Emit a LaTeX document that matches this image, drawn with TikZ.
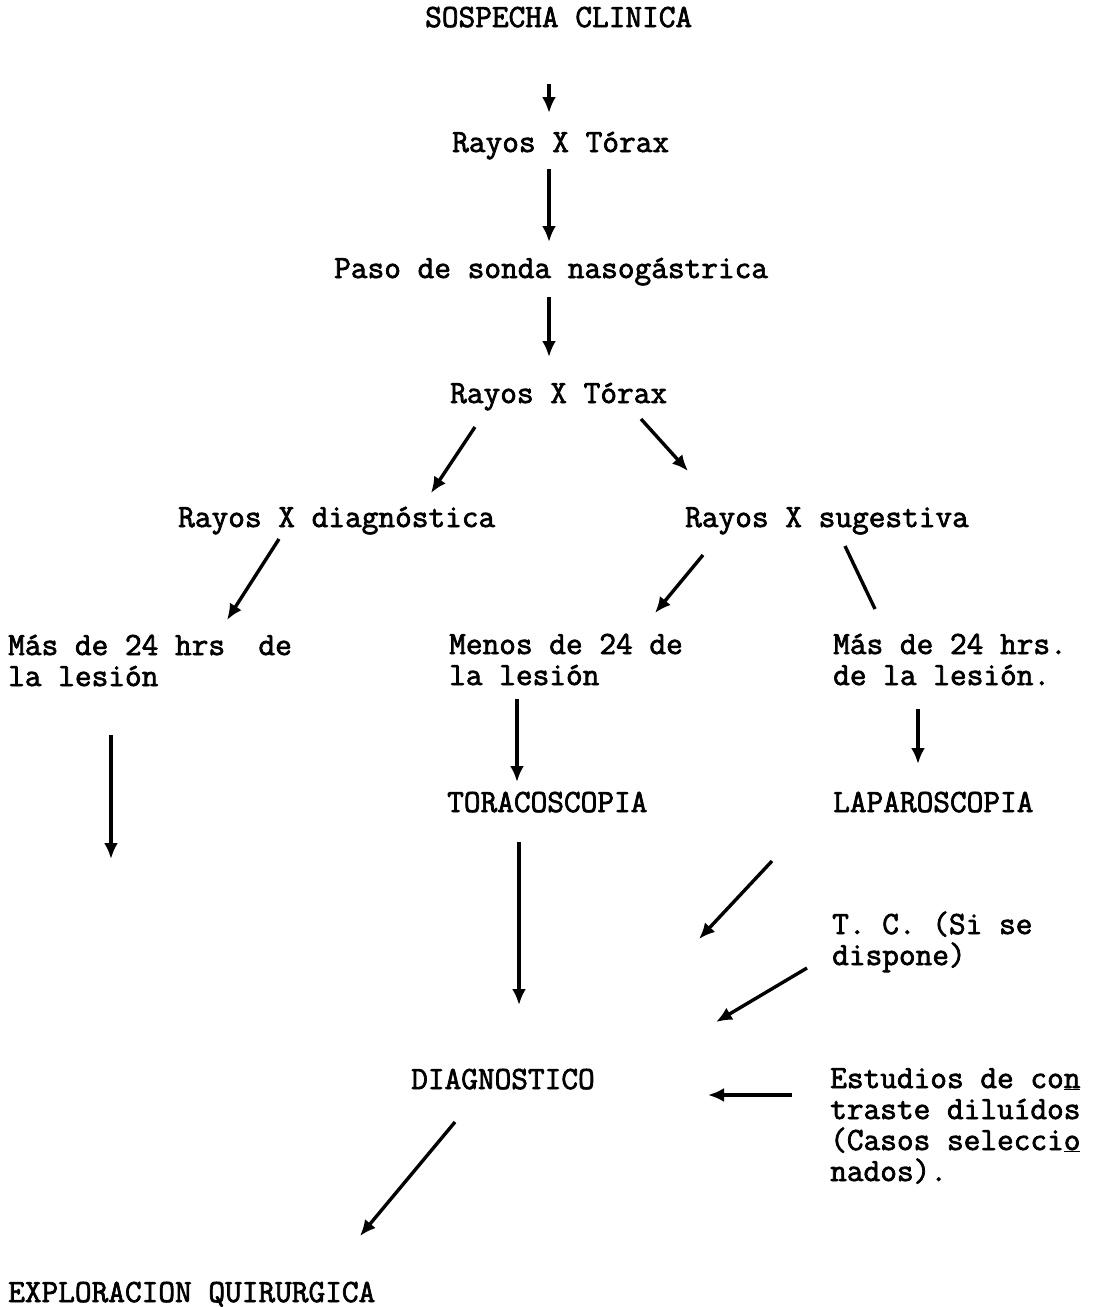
\documentclass[tikz,border=0pt]{standalone}
\usepackage{fontspec}
\setmonofont{Latin Modern Mono}[FakeBold=2.2]
\usetikzlibrary{arrows.meta}
\tikzset{
  txt/.style={anchor=base west, inner sep=0pt, align=left,
    font=\ttfamily\fontsize{32.4}{31}\selectfont},
  arr/.style={line width=3.4pt, -{Latex[length=16pt,width=14pt]}},
  plain/.style={line width=3.4pt}
}
\begin{document}
\begin{tikzpicture}[x=1pt,y=-1pt]
\useasboundingbox (0,0) rectangle (1102,1307);
\fill[white] (0,0) rectangle (1102,1307);
% text nodes (base anchor = baseline of last line)
\node[txt] (sos) at (425,27) {SOSPECHA CLINICA};
\node[txt] (rx1) at (452,152) {Rayos X Tórax};
\node[txt] (paso) at (334,278) {Paso de sonda nasogástrica};
\node[txt] (rx2) at (450,403) {Rayos X Tórax};
\node[txt] (rxd) at (178,527) {Rayos X diagnóstica};
\node[txt] (rxs) at (685,527) {Rayos X sugestiva};
\node[txt] (mas1) at (8,686) {Más de 24 hrs~~de\\la lesión};
\node[txt] (menos) at (449,685) {Menos de 24 de\\la lesión};
\node[txt] (mas2) at (833,685) {Más de 24 hrs.\\de la lesión.};
\node[txt] (torac) at (447,812) {TORACOSCOPIA};
\node[txt] (lapar) at (833,812) {LAPAROSCOPIA};
\node[txt] (tc) at (832,965) {T. C. (Si se\\dispone)};
\node[txt] (diag) at (411,1089) {DIAGNOSTICO};
\node[txt] (est) at (830,1181)
  {Estudios de co\underline{n}\\traste diluídos\\(Casos selecci\underline{o}\\nados).};
\node[txt] (expl) at (8,1302) {EXPLORACION QUIRURGICA};
% connector end points
\coordinate (a1s) at (549,84);   \coordinate (a1e) at (549,113);
\coordinate (a2s) at (549,169);  \coordinate (a2e) at (549,242);
\coordinate (a3s) at (549,297);  \coordinate (a3e) at (549,357);
\coordinate (a4s) at (475,427);  \coordinate (a4e) at (431,493);
\coordinate (a5s) at (641,419);  \coordinate (a5e) at (688,471);
\coordinate (a6s) at (279,539);  \coordinate (a6e) at (227,620);
\coordinate (a7s) at (703,555);  \coordinate (a7e) at (655,613);
\coordinate (a8s) at (845,546);  \coordinate (a8e) at (875,609);
\coordinate (a9s) at (111,735);  \coordinate (a9e) at (111,859);
\coordinate (a10s) at (517,699); \coordinate (a10e) at (517,782);
\coordinate (a11s) at (918,709); \coordinate (a11e) at (918,764);
\coordinate (a12s) at (519,842); \coordinate (a12e) at (519,1005);
\coordinate (a13s) at (772,861); \coordinate (a13e) at (699,939);
\coordinate (a14s) at (807,968); \coordinate (a14e) at (716,1022);
\coordinate (a15s) at (792,1095); \coordinate (a15e) at (708,1095);
\coordinate (a16s) at (455,1122); \coordinate (a16e) at (360,1236);
% connectors
\draw[arr] (a1s) -- (a1e);
\draw[arr] (a2s) -- (a2e);
\draw[arr] (a3s) -- (a3e);
\draw[arr] (a4s) -- (a4e);
\draw[arr] (a5s) -- (a5e);
\draw[arr] (a6s) -- (a6e);
\draw[arr] (a7s) -- (a7e);
\draw[plain] (a8s) -- (a8e);
\draw[arr] (a9s) -- (a9e);
\draw[arr] (a10s) -- (a10e);
\draw[arr] (a11s) -- (a11e);
\draw[arr] (a12s) -- (a12e);
\draw[arr] (a13s) -- (a13e);
\draw[arr] (a14s) -- (a14e);
\draw[arr] (a15s) -- (a15e);
\draw[arr] (a16s) -- (a16e);
\end{tikzpicture}
\end{document}
